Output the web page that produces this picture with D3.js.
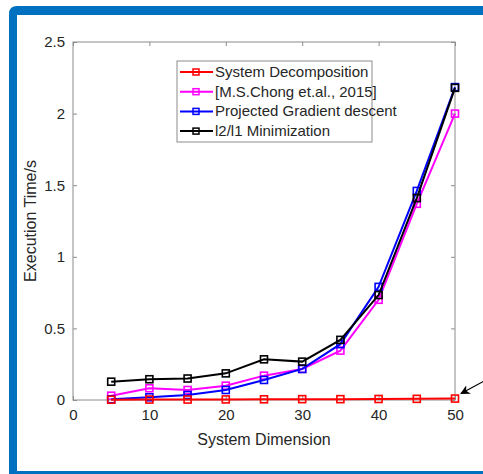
<!DOCTYPE html>
<meta charset="utf-8">
<style>
body { margin: 0; background: #fff; }
text { font-family: "Liberation Sans", Arial, sans-serif; fill: #262626; }
.axis path, .axis line { stroke: #8c8c8c; }
</style>
<body>
<script src="https://cdn.jsdelivr.net/npm/d3@7/dist/d3.min.js"></script>
<script>
// data
var dims = [5, 10, 15, 20, 25, 30, 35, 40, 45, 50];
var sysDecomp = [0.002, 0.003, 0.003, 0.004, 0.005, 0.006, 0.006, 0.007, 0.008, 0.01];
var chong = [0.03, 0.082, 0.07, 0.10, 0.17, 0.217, 0.345, 0.70, 1.37, 2.0];
var projGrad = [0.005, 0.019, 0.035, 0.07, 0.14, 0.217, 0.39, 0.79, 1.46, 2.185];
var l2l1 = [0.128, 0.145, 0.15, 0.186, 0.284, 0.268, 0.42, 0.733, 1.41, 2.18];
var seriesNames = ["System Decomposition", "[M.S.Chong et.al., 2015]", "Projected Gradient descent", "l2/l1 Minimization"];
var seriesColors = ["#ff0000", "#ff00ff", "#0000ff", "#000000"];
var xTicks = [0, 10, 20, 30, 40, 50];
var yTicks = [0, 0.5, 1, 1.5, 2, 2.5];

var W = 483, H = 474;
var margin = {top: 42, right: 28, bottom: 74, left: 73},
    width = 455 - margin.left,
    height = 400 - margin.top;

var svg = d3.select("body").append("svg")
    .attr("width", W)
    .attr("height", H);

// blue frame
var frame = svg.append("g");
frame.append("path")
    .attr("d", "M9,474 L9,14 Q9,6 17,6 L483,6 L483,15 L17,15 L17,474 Z")
    .attr("fill", "#0070c0");
frame.append("rect").attr("x", 9).attr("y", 471).attr("width", 474).attr("height", 3).attr("fill", "#0070c0");

var g = svg.append("g")
    .attr("transform", "translate(" + margin.left + "," + margin.top + ")");

var x = d3.scaleLinear().domain([0, 50]).range([0, width]);
var y = d3.scaleLinear().domain([0, 2.5]).range([height, 0]);

// box with inward ticks
g.append("rect")
    .attr("width", width).attr("height", height)
    .attr("fill", "none").attr("stroke", "#8c8c8c");

var fmt = function(d) { return d3.format("")(d); };

g.append("g").attr("class", "axis")
    .attr("transform", "translate(0," + height + ")")
    .call(d3.axisBottom(x).tickValues(xTicks).tickSizeInner(-4).tickSizeOuter(0).tickPadding(9).tickFormat(fmt))
    .call(function(s) { s.select(".domain").remove(); s.selectAll("text").style("font-size", "15px"); });
g.append("g").attr("class", "axis")
    .call(d3.axisTop(x).tickValues(xTicks).tickSizeInner(-4).tickSizeOuter(0).tickFormat(""))
    .call(function(s) { s.select(".domain").remove(); });
g.append("g").attr("class", "axis")
    .call(d3.axisLeft(y).tickValues(yTicks).tickSizeInner(-4).tickSizeOuter(0).tickPadding(8).tickFormat(fmt))
    .call(function(s) { s.select(".domain").remove(); s.selectAll("text").style("font-size", "15px"); });
g.append("g").attr("class", "axis")
    .attr("transform", "translate(" + width + ",0)")
    .call(d3.axisRight(y).tickValues(yTicks).tickSizeInner(-4).tickSizeOuter(0).tickFormat(""))
    .call(function(s) { s.select(".domain").remove(); });

g.append("text")
    .attr("x", width / 2).attr("y", height + 45)
    .attr("text-anchor", "middle")
    .style("font-size", "16px")
    .text("System Dimension");

g.append("text")
    .attr("transform", "translate(" + (-37) + "," + (height / 2) + ")rotate(-90)")
    .attr("text-anchor", "middle")
    .style("font-size", "16px")
    .text("Execution Time/s");

var allSeries = [sysDecomp, chong, projGrad, l2l1];
var line = d3.line()
    .x(function(d, i) { return x(dims[i]); })
    .y(function(d) { return y(d); });

// draw in order so that black ends on top
[1, 2, 3, 0].forEach(function(k) {
  var vals = allSeries[k];
  g.append("path")
      .datum(vals)
      .attr("d", line)
      .attr("fill", "none")
      .attr("stroke", seriesColors[k])
      .attr("stroke-width", 2);
  g.selectAll(".m" + k)
      .data(vals)
    .enter().append("rect")
      .attr("class", "m" + k)
      .attr("x", function(d, i) { return x(dims[i]) - 3.5; })
      .attr("y", function(d) { return y(d) - 3.5; })
      .attr("width", 7).attr("height", 7)
      .attr("fill", "none")
      .attr("stroke", seriesColors[k])
      .attr("stroke-width", 1.6);
});

// legend
var lg = svg.append("g").attr("transform", "translate(177,61)");
lg.append("rect")
    .attr("width", 195).attr("height", 81)
    .attr("fill", "#fff").attr("stroke", "#8c8c8c");
seriesNames.forEach(function(name, i) {
  var yy = 11 + i * 19.7;
  lg.append("line")
      .attr("x1", 3).attr("x2", 36).attr("y1", yy).attr("y2", yy)
      .attr("stroke", seriesColors[i]).attr("stroke-width", 2);
  lg.append("rect")
      .attr("x", 16).attr("y", yy - 3).attr("width", 6).attr("height", 6)
      .attr("fill", "none").attr("stroke", seriesColors[i]).attr("stroke-width", 1.5);
  lg.append("text")
      .attr("x", 38).attr("y", yy + 5)
      .style("font-size", "15px")
      .text(name);
});

// arrow pointing at the last red marker
svg.append("defs").append("marker")
    .attr("id", "ah").attr("viewBox", "0 0 10 10")
    .attr("refX", 9).attr("refY", 5)
    .attr("markerWidth", 8).attr("markerHeight", 8)
    .attr("orient", "auto")
  .append("path").attr("d", "M0,0 L10,5 L0,10 L3,5 Z").attr("fill", "#000");
var tipX = margin.left + x(50) + 6, tipY = margin.top + y(sysDecomp[9]) - 5;
svg.append("line")
    .attr("x1", W + 2).attr("y1", tipY - 13)
    .attr("x2", tipX).attr("y2", tipY)
    .attr("stroke", "#000").attr("stroke-width", 1.2)
    .attr("marker-end", "url(#ah)");
</script>
</body>
